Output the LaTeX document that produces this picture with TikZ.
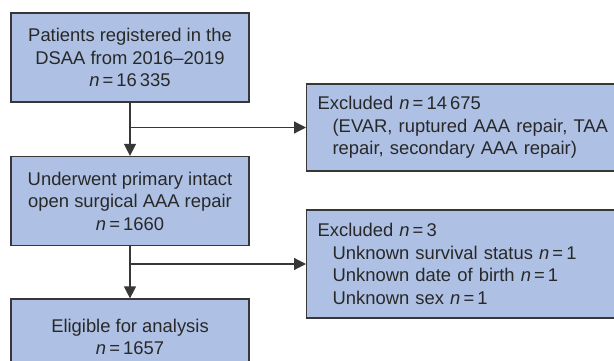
\documentclass[tikz,border=0pt]{standalone}
\usepackage{fontspec}
\setmainfont{Liberation Sans}
\usetikzlibrary{arrows.meta}
\definecolor{boxfill}{RGB}{174,193,228}
\definecolor{boxline}{RGB}{55,55,55}
\definecolor{txt}{RGB}{40,40,40}
\newcommand{\nn}[1]{\textit{n}\,=\,#1}
\tikzset{
	box/.style={draw=boxline,line width=1.2pt,fill=boxfill,text=txt,
		font=\fontsize{18.4}{22.5}\selectfont,inner sep=0pt},
	midbox/.style={box,minimum width=238,minimum height=89,align=center},
	sidebox/.style={box,anchor=west,text width=302,inner xsep=11pt,align=left},
	arr/.style={draw=boxline,line width=1.2pt,-{Triangle[length=12pt,width=12pt]}}
}
\begin{document}
\begin{tikzpicture}[x=1pt,y=-1pt]
	\useasboundingbox (0,0) rectangle (614,361);
	\clip (0,0) rectangle (614,361);

	% left column
	\node[midbox] (reg) at (130,57.5) {Patients registered in the\\DSAA from 2016--2019\\\nn{16\,335}};
	\node[midbox] (surg) at (130,201) {Underwent primary intact\\open surgical AAA repair\\\nn{1660}};
	\node[midbox,minimum height=76] (elig) at (130,337) {Eligible for analysis\\\nn{1657}};

	% exclusions
	\node[sidebox,minimum height=87] (excl1) at (306,127.5) {Excluded \nn{14\,675}\\
		\hspace*{15pt}(EVAR, ruptured AAA repair, TAA\\
		\hspace*{15pt}repair, secondary AAA repair)};
	\node[sidebox,minimum height=108] (excl2) at (306,264) {Excluded \nn{3}\\
		\hspace*{15pt}Unknown survival status \nn{1}\\
		\hspace*{15pt}Unknown date of birth \nn{1}\\
		\hspace*{15pt}Unknown sex \nn{1}};

	% arrows
	\draw[arr] (reg) -- (surg);
	\draw[arr] (reg.south |- excl1.west) -- (excl1.west);
	\draw[arr] (surg) -- (elig);
	\draw[arr] (surg.south |- excl2.west) -- (excl2.west);
\end{tikzpicture}
\end{document}
